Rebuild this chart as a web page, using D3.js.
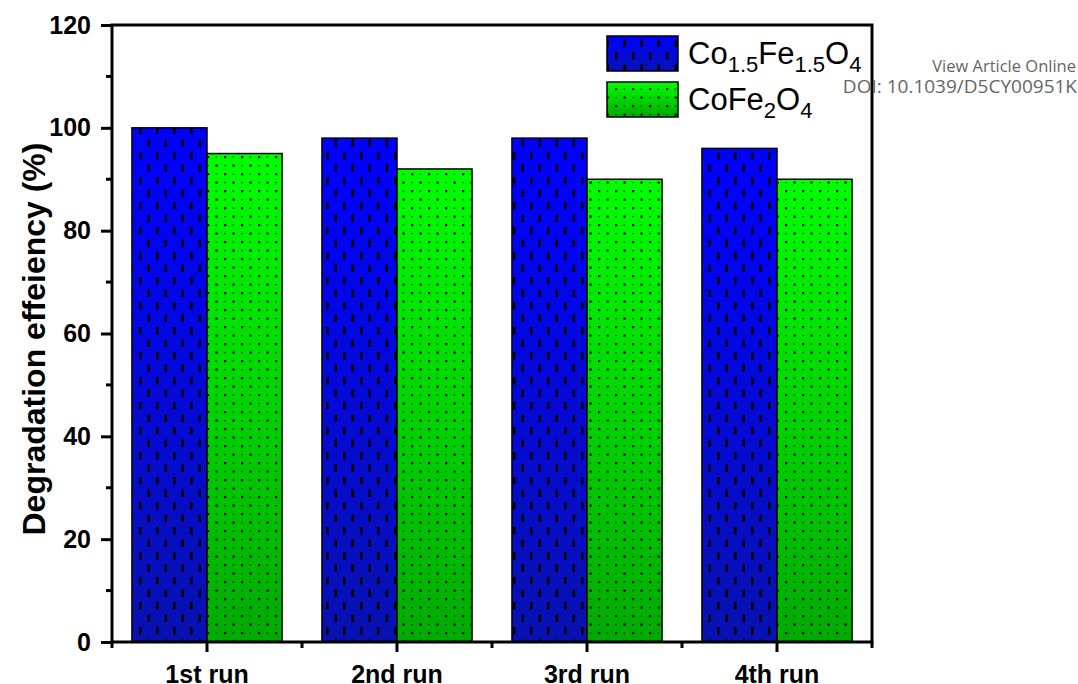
<!DOCTYPE html>
<html>
<head>
<meta charset="utf-8">
<script src="https://d3js.org/d3.v7.min.js"></script>
<style>
  body { margin: 0; background: #fff; }
  text { font-family: "Liberation Sans", Arial, sans-serif; }
</style>
</head>
<body>
<div id="chart"></div>
<script>
// data
var runs = ["1st run", "2nd run", "3rd run", "4th run"];
var seriesNames = ["Co1.5Fe1.5O4", "CoFe2O4"];
var co15 = [100, 98, 98, 96];
var cofe2 = [95, 92, 90, 90];
var yTicks = [0, 20, 40, 60, 80, 100, 120];

var width = 1078, height = 684;
var mLeft = 112, mRight = 872, mTop = 25, mBottom = 642;

var svg = d3.select("#chart").append("svg")
    .attr("width", width)
    .attr("height", height);

var defs = svg.append("defs");

// vertical gradients for the fills
function grad(id, c1, c2) {
    var g = defs.append("linearGradient").attr("id", id)
        .attr("x1", 0).attr("y1", 0).attr("x2", 0).attr("y2", 1);
    g.append("stop").attr("offset", "0%").attr("stop-color", c1);
    g.append("stop").attr("offset", "100%").attr("stop-color", c2);
}
grad("gBlue", "#0000ff", "#0812b0");
grad("gGreen", "#00ff00", "#00aa00");

// dash pattern for the blue bars
var pd = defs.append("pattern").attr("id", "pDash")
    .attr("patternUnits", "userSpaceOnUse")
    .attr("width", 17).attr("height", 25);
pd.append("rect").attr("x", 3).attr("y", 2).attr("width", 2.5).attr("height", 7.5).attr("fill", "#000");
pd.append("rect").attr("x", 11.5).attr("y", 14.5).attr("width", 2.5).attr("height", 7.5).attr("fill", "#000");

// dot pattern for the green bars
var pdot = defs.append("pattern").attr("id", "pDot")
    .attr("patternUnits", "userSpaceOnUse")
    .attr("width", 17).attr("height", 17);
pdot.append("rect").attr("x", 3).attr("y", 3).attr("width", 2.2).attr("height", 2.2).attr("fill", "#000");
pdot.append("rect").attr("x", 11.5).attr("y", 11.5).attr("width", 2.2).attr("height", 2.2).attr("fill", "#000");
pdot.append("rect").attr("x", 11.5).attr("y", 3.5).attr("width", 1.6).attr("height", 1.2).attr("fill", "#000").attr("opacity", 0.7);
pdot.append("rect").attr("x", 3.2).attr("y", 12).attr("width", 1.6).attr("height", 1.2).attr("fill", "#000").attr("opacity", 0.7);

var fills = [["url(#gBlue)", "url(#pDash)"], ["url(#gGreen)", "url(#pDot)"]];
var values = [co15, cofe2];

var x = d3.scaleBand().domain(runs).range([mLeft, mRight])
    .paddingInner(0.21).paddingOuter(0.105);
var xs = d3.scaleBand().domain([0, 1]).range([0, x.bandwidth()]);
var y = d3.scaleLinear().domain([0, 120]).range([mBottom, mTop]);

// bars
values.forEach(function(vals, s) {
    var g = svg.append("g");
    runs.forEach(function(r, i) {
        var bx = x(r) + xs(s), by = y(vals[i]);
        var bw = xs.bandwidth(), bh = y(0) - y(vals[i]);
        g.append("rect").attr("x", bx).attr("y", by).attr("width", bw).attr("height", bh)
            .attr("fill", fills[s][0]);
        g.append("rect").attr("x", bx).attr("y", by).attr("width", bw).attr("height", bh)
            .attr("fill", fills[s][1]).attr("stroke", "#000").attr("stroke-width", 1.5);
    });
});

// y axis with minor ticks
var yAxis = d3.axisLeft(y).tickValues(yTicks).tickSize(11).tickPadding(10);
var gy = svg.append("g").attr("transform", "translate(" + mLeft + ",0)").call(yAxis);
gy.select(".domain").remove();
gy.selectAll(".tick line").attr("stroke-width", 3);
gy.selectAll(".tick text").attr("font-size", 25).attr("font-weight", "bold")
    .attr("font-family", "Liberation Sans, Arial, sans-serif").attr("fill", "#000");
d3.range(10, 120, 20).forEach(function(v) {
    svg.append("line").attr("x1", mLeft - 6).attr("x2", mLeft)
        .attr("y1", y(v)).attr("y2", y(v)).attr("stroke", "#000").attr("stroke-width", 3);
});

// x axis: major ticks at centres, minor at boundaries
var gx = svg.append("g").attr("transform", "translate(0," + mBottom + ")")
    .call(d3.axisBottom(x).tickSize(10).tickPadding(13));
gx.select(".domain").remove();
gx.selectAll(".tick line").attr("stroke-width", 3);
gx.selectAll(".tick text").attr("font-size", 25).attr("font-weight", "bold")
    .attr("font-family", "Liberation Sans, Arial, sans-serif").attr("fill", "#000");
var step = x.step();
var bounds = runs.map(function(r) { return x(r) + x.bandwidth() / 2 - step / 2; });
bounds.push(x(runs[3]) + x.bandwidth() / 2 + step / 2);
bounds.forEach(function(b) {
    svg.append("line").attr("x1", b).attr("x2", b)
        .attr("y1", mBottom).attr("y2", mBottom + 6).attr("stroke", "#000").attr("stroke-width", 3);
});

// frame
svg.append("rect").attr("x", mLeft).attr("y", mTop)
    .attr("width", mRight - mLeft).attr("height", mBottom - mTop)
    .attr("fill", "none").attr("stroke", "#000").attr("stroke-width", 3);

// y label
svg.append("text")
    .attr("transform", "translate(45,339) rotate(-90)")
    .attr("text-anchor", "middle")
    .attr("font-size", 32).attr("font-weight", "bold")
    .text("Degradation effeiency (%)");

// legend
var legItems = [
    [["Co", 0], ["1.5", 1], ["Fe", 0], ["1.5", 1], ["O", 0], ["4", 1]],
    [["Co", 0], ["Fe", 0], ["2", 1], ["O", 0], ["4", 1]]
];
var legY = [36, 82];
legItems.forEach(function(parts, s) {
    svg.append("rect").attr("x", 607).attr("y", legY[s]).attr("width", 71).attr("height", 35)
        .attr("fill", fills[s][0]);
    svg.append("rect").attr("x", 607).attr("y", legY[s]).attr("width", 71).attr("height", 35)
        .attr("fill", fills[s][1]).attr("stroke", "#000").attr("stroke-width", 1.5);
    var t = svg.append("text").attr("x", 688).attr("y", legY[s] + 28).attr("font-size", 31);
    var sub = false;
    parts.forEach(function(p) {
        var dy = 0;
        if (p[1] && !sub) dy = 8;
        if (!p[1] && sub) dy = -8;
        sub = !!p[1];
        t.append("tspan").attr("font-size", p[1] ? 22 : 31).attr("dy", dy).text(p[0]);
    });
});

// publisher watermark
svg.append("text").attr("x", 1076).attr("y", 72).attr("text-anchor", "end")
    .attr("font-size", 16.5).attr("fill", "#666").style("font-family", "'Open Sans', sans-serif")
    .text("View Article Online");
svg.append("text").attr("x", 1077).attr("y", 93).attr("text-anchor", "end")
    .attr("font-size", 19).attr("fill", "#666").style("font-family", "'Open Sans', sans-serif")
    .text("DOI: 10.1039/D5CY00951K");
</script>
</body>
</html>
